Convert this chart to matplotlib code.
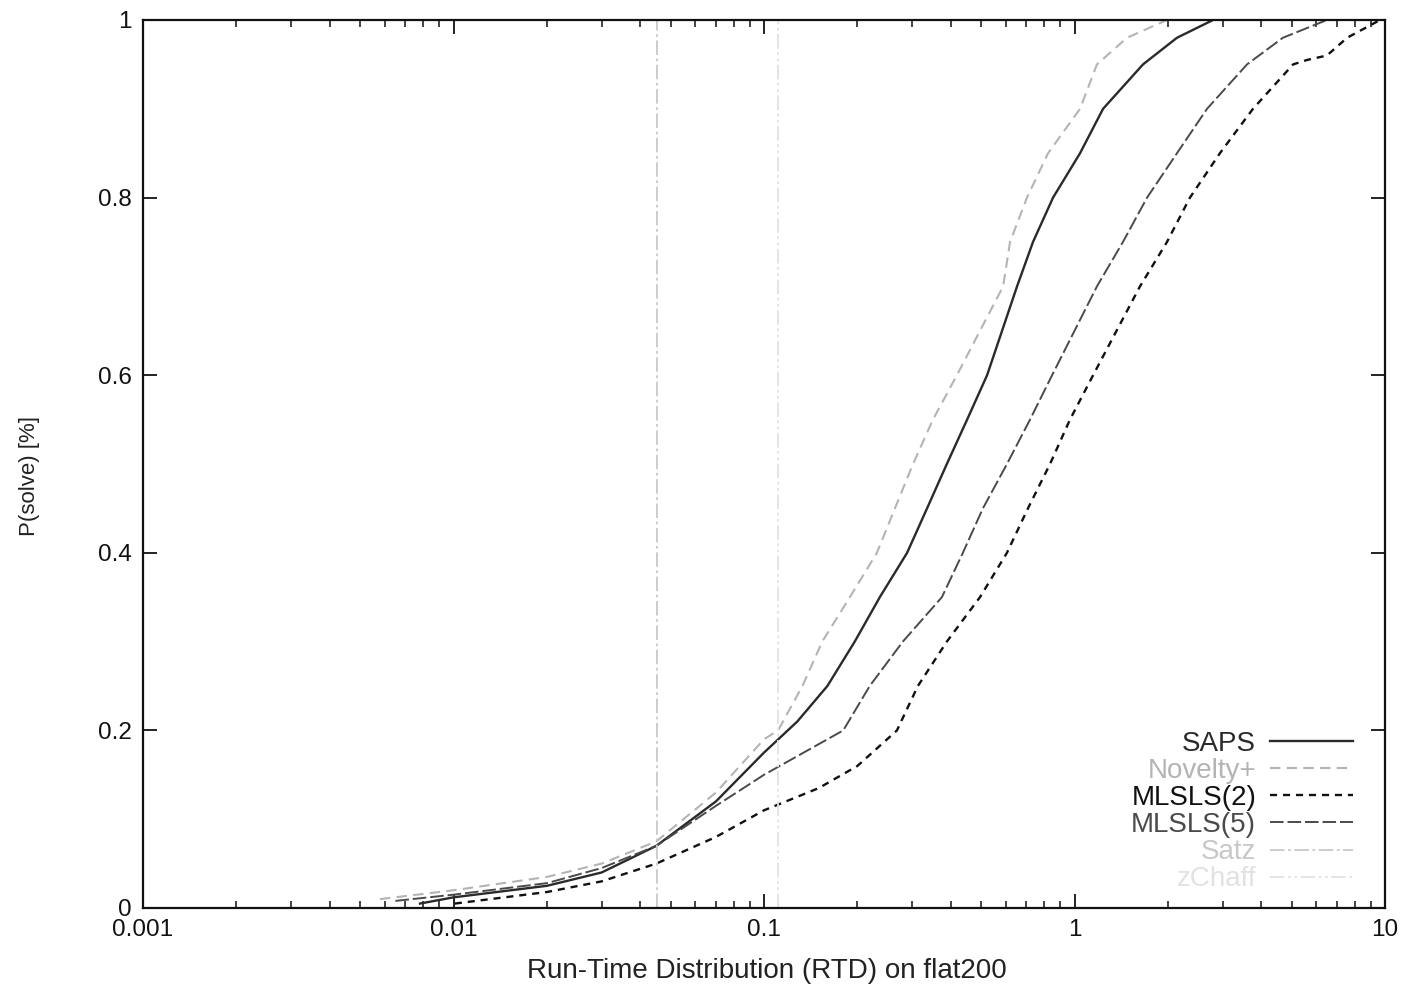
import matplotlib
matplotlib.use("Agg")
import matplotlib.pyplot as plt
import numpy as np

plt.rcParams['font.family'] = ['Liberation Sans', 'DejaVu Sans']

# run-time distributions (seconds, P(solve))
saps_x = [0.0078, 0.01, 0.02, 0.03, 0.045, 0.07, 0.1, 0.128, 0.160, 0.196, 0.236, 0.289, 0.335,
          0.388, 0.451, 0.523, 0.653, 0.735, 0.853, 1.042, 1.236, 1.662, 2.138, 2.793]
saps_y = [0.005, 0.012, 0.025, 0.040, 0.070, 0.12, 0.175, 0.21, 0.25, 0.30, 0.35, 0.40, 0.45,
          0.50, 0.55, 0.60, 0.70, 0.75, 0.80, 0.85, 0.90, 0.95, 0.98, 1.0]

novelty_x = [0.0058, 0.01, 0.02, 0.03, 0.045, 0.07, 0.1, 0.111, 0.133, 0.154, 0.189, 0.231, 0.264,
             0.302, 0.350, 0.418, 0.589, 0.62, 0.703, 0.822, 1.042, 1.181, 1.476, 1.985]
novelty_y = [0.010, 0.020, 0.035, 0.050, 0.075, 0.13, 0.19, 0.20, 0.25, 0.30, 0.35, 0.40, 0.45,
             0.50, 0.55, 0.60, 0.70, 0.75, 0.80, 0.85, 0.90, 0.95, 0.98, 1.0]

mlsls2_x = [0.0101, 0.02, 0.03, 0.045, 0.07, 0.1, 0.15, 0.2, 0.268, 0.313, 0.388, 0.496, 0.606,
            0.708, 0.834, 0.967, 1.148, 1.625, 1.985, 2.354, 2.94, 3.757, 5.06, 5.61,
            6.5, 7.55, 9.64]
mlsls2_y = [0.005, 0.018, 0.030, 0.050, 0.08, 0.11, 0.135, 0.16, 0.20, 0.25, 0.30, 0.35, 0.40,
            0.45, 0.50, 0.55, 0.60, 0.70, 0.75, 0.80, 0.85, 0.90, 0.95, 0.955,
            0.96, 0.98, 1.0]

mlsls5_x = [0.0065, 0.01, 0.02, 0.03, 0.045, 0.07, 0.1, 0.180, 0.219, 0.280, 0.374, 0.437, 0.507,
            0.606, 0.719, 0.847, 1.181, 1.432, 1.713, 2.138, 2.672, 3.594, 4.69, 6.5]
mlsls5_y = [0.008, 0.015, 0.028, 0.045, 0.070, 0.115, 0.15, 0.20, 0.25, 0.30, 0.35, 0.40, 0.45,
            0.50, 0.55, 0.60, 0.70, 0.75, 0.80, 0.85, 0.90, 0.95, 0.98, 1.0]

# complete solvers: single run times
satz_time = 0.0452
zchaff_time = 0.111

xticks = [0.001, 0.01, 0.1, 1, 10]
xtick_labels = ["0.001", "0.01", "0.1", "1", "10"]
yticks = [0, 0.2, 0.4, 0.6, 0.8, 1]
ytick_labels = ["0", "0.2", "0.4", "0.6", "0.8", "1"]

fig = plt.figure(figsize=(14.13, 9.92), dpi=100)
ax = fig.add_axes([143 / 1413, 1 - 908 / 992, (1385 - 143) / 1413, (908 - 20) / 992])

ax.plot(saps_x, saps_y, color='#2a2a2a', lw=1.7, label='SAPS')
ax.plot(novelty_x, novelty_y, color='#b4b4b4', lw=1.5, dashes=(5, 3), label='Novelty+')
ax.plot(mlsls2_x, mlsls2_y, color='#111111', lw=1.7, dashes=(3, 2.5), label='MLSLS(2)')
ax.plot(mlsls5_x, mlsls5_y, color='#4a4a4a', lw=1.4, dashes=(7, 2), label='MLSLS(5)')
ax.axvline(satz_time, color='#c8c8c8', lw=1.3, dashes=(8, 2, 1.5, 2), label='Satz')
ax.axvline(zchaff_time, color='#e2e2e2', lw=1.3, dashes=(8, 2, 1.5, 2, 1.5, 2), label='zChaff')

ax.set_xscale('log')
ax.set_xlim(0.001, 10)
ax.set_ylim(0, 1)
ax.set_xticks(xticks)
ax.set_xticklabels(xtick_labels)
ax.set_yticks(yticks)
ax.set_yticklabels(ytick_labels)

ax.tick_params(which='both', direction='in', top=True, right=True, labelsize=17.5, colors='#111111')
ax.tick_params(which='major', length=10, width=1.3, pad=8)
ax.tick_params(which='minor', length=5, width=1.1)
for s in ax.spines.values():
    s.set_linewidth(1.6)
    s.set_color('#111111')

ax.set_xlabel('Run-Time Distribution (RTD) on flat200', fontsize=20, color='#222222')
ax.set_ylabel('P(solve) [%]', fontsize=16, color='#222222')
ax.xaxis.set_label_coords(0.502, -0.056)
ax.yaxis.set_label_coords(-0.083, 0.486)

leg = ax.legend(loc='lower right', bbox_to_anchor=(0.9857, 0.002), frameon=False, markerfirst=False,
                labelcolor='linecolor', fontsize=20, handlelength=3.0, handletextpad=0.5,
                labelspacing=0.04, borderpad=0)

fig.savefig('out.png', dpi=100)
